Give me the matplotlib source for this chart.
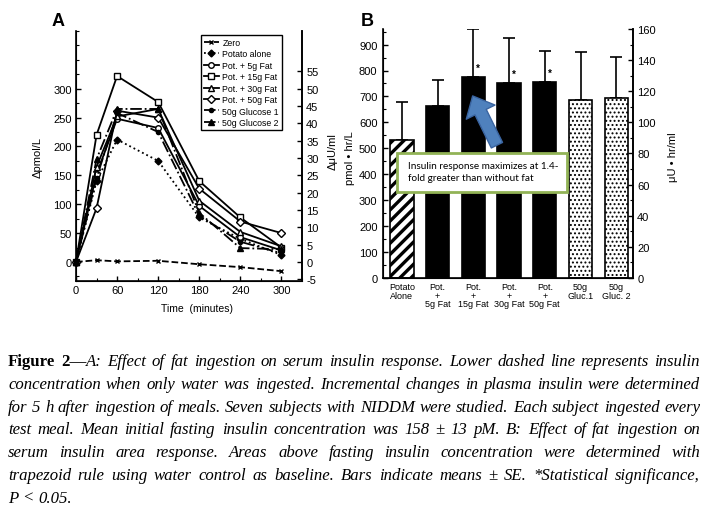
import numpy as np
import matplotlib
matplotlib.use("Agg")
import matplotlib.pyplot as plt
from matplotlib.lines import Line2D
from matplotlib.legend_handler import HandlerLine2D
from matplotlib.patches import FancyArrowPatch, Rectangle
from matplotlib.ticker import MultipleLocator

plt.rcParams['font.family'] = ['Liberation Sans', 'DejaVu Sans']
plt.rcParams['hatch.linewidth'] = 2.4
plt.rcParams['axes.unicode_minus'] = False

# ---- panel A: incremental insulin (pmol/L) ----
times = [0, 30, 60, 120, 180, 240, 300]
zero = [0, 3, 1, 2, -4, -9, -16]
potato_alone = [0, 140, 212, 175, 77, 40, 12]
pot_5g = [0, 152, 248, 232, 97, 43, 20]
pot_15g = [0, 220, 322, 277, 140, 77, 25]
pot_30g = [0, 165, 252, 265, 106, 52, 27]
pot_50g = [0, 93, 262, 250, 127, 70, 50]
glucose_1 = [0, 145, 258, 225, 80, 35, 15]
glucose_2 = [0, 178, 265, 265, 85, 24, 22]

series_names = ['Zero', 'Potato alone', 'Pot. + 5g Fat', 'Pot. + 15g Fat',
                'Pot. + 30g Fat', 'Pot. + 50g Fat', '50g Glucose 1', '50g Glucose 2']
series_values = [zero, potato_alone, pot_5g, pot_15g, pot_30g, pot_50g, glucose_1, glucose_2]
# linestyle, marker, face colour, marker size
series_styles = [('--', 'x', 'k', 3.5), (':', 'D', 'k', 3.5), ('-', 'o', 'w', 4),
                 ('-', 's', 'w', 4), ('-', '^', 'w', 4), ('-', 'D', 'w', 3.8),
                 ('-.', 'o', 'k', 3), ('-.', '^', 'k', 4)]

# ---- panel B: insulin area (pmol*hr/L) ----
bar_labels = ['Potato\nAlone', 'Pot.\n+\n5g Fat', 'Pot.\n+\n15g Fat', 'Pot.\n+\n30g Fat',
              'Pot.\n+\n50g Fat', '50g\nGluc.1', '50g\nGluc. 2']
area_means = [532, 665, 775, 752, 757, 688, 693]
area_se = [148, 98, 185, 175, 119, 184, 160]
significant = [False, False, True, True, True, False, False]
bar_kind = ['hatch', 'solid', 'solid', 'solid', 'solid', 'dots', 'dots']

note_text = "Insulin response maximizes at 1.4-\nfold greater than without fat"

caption_lines = [
    "Figure 2—|A: Effect of fat ingestion on serum insulin response. Lower dashed line represents insulin",
    "concentration when only water was ingested. Incremental changes in plasma insulin were determined",
    "for 5 h after ingestion of meals. Seven subjects with NIDDM were studied. Each subject ingested every",
    "test meal. Mean initial fasting insulin concentration was 158 ± 13 pM. B: Effect of fat ingestion on",
    "serum insulin area response. Areas above fasting insulin concentration were determined with",
    "trapezoid rule using water control as baseline. Bars indicate means ± SE. *Statistical significance,",
    "P < 0.05.",
]


class EndMarker(HandlerLine2D):
    def get_xdata(self, legend, xdescent, ydescent, width, height, fontsize):
        xdata = np.array([-xdescent, -xdescent + width])
        return xdata, np.array([-xdescent + width])


W, H = 704, 510
fig = plt.figure(figsize=(W / 100, H / 100), dpi=100)

# ================= Panel A =================
axA = fig.add_axes([76 / W, 1 - 282 / H, 226 / W, 250 / H])
for name, vals, (ls, mk, fc, ms) in zip(series_names, series_values, series_styles):
    axA.plot(times, vals, color='k', ls=ls, lw=1.3, marker=mk, ms=ms,
             mfc=fc, mec='k', mew=1.0, label=name, clip_on=False, zorder=3)
axA.set_xlim(0, 330)
axA.set_ylim(-33, 400)
axA.set_xticks(range(0, 301, 60))
axA.xaxis.set_minor_locator(MultipleLocator(30))
axA.set_yticks(range(0, 301, 50))
axA.yaxis.set_minor_locator(MultipleLocator(25))
axA.spines['top'].set_visible(False)
for s in ['left', 'right', 'bottom']:
    axA.spines[s].set_linewidth(1.2)
axA.tick_params(which='major', direction='in', length=3.5, width=1, labelsize=8, pad=3)
axA.tick_params(which='minor', direction='in', length=2, width=0.8)
axA.set_xlabel('Time  (minutes)', fontsize=7.5)
axA.xaxis.set_label_coords(0.535, -0.088)
axA.set_ylabel('Δpmol/L', fontsize=8)
axA.yaxis.set_label_coords(-0.146, 0.5)

axA2 = axA.twinx()
axA2.set_ylim(-33 / 6, 400 / 6)
axA2.set_yticks(range(-5, 56, 5))
axA2.spines['top'].set_visible(False)
axA2.spines['right'].set_linewidth(1.2)
axA2.tick_params(direction='in', length=3.5, width=1, labelsize=8, pad=3)
axA2.set_ylabel('ΔμU/ml', fontsize=8)
axA2.yaxis.set_label_coords(1.115, 0.52)

leg = axA.legend(loc='upper right', bbox_to_anchor=(0.912, 0.985), fontsize=6.3,
                 frameon=True, fancybox=False, edgecolor='k', framealpha=1,
                 handlelength=1.8, handletextpad=0.35, labelspacing=0.28,
                 borderpad=0.35, borderaxespad=0,
                 handler_map={Line2D: EndMarker()})
leg.get_frame().set_linewidth(1.0)

# ================= Panel B =================
axB = fig.add_axes([383 / W, 1 - 279 / H, 250 / W, 249 / H])
x = np.arange(len(area_means))
for xi, m, kind in zip(x, area_means, bar_kind):
    if kind == 'solid':
        axB.bar(xi, m, width=0.65, color='k', edgecolor='k', lw=1.2, zorder=2)
    elif kind == 'hatch':
        axB.bar(xi, m, width=0.65, color='w', edgecolor='k', lw=1.2, hatch='///', zorder=2)
    else:
        b = axB.bar(xi, m, width=0.65, color='w', edgecolor='k', lw=1.2, hatch='....', zorder=2)
        for p in b.patches:
            p.set_hatch_linewidth(0.9)
axB.errorbar(x, area_means, yerr=[np.zeros(len(area_se)), area_se], fmt='none',
             ecolor='k', elinewidth=1.2, capsize=4.5, capthick=1.2, zorder=1)
for xi, m, sig in zip(x, area_means, significant):
    if sig:
        axB.text(xi + 0.13, m + 15, '*', fontsize=7, ha='center', va='bottom',
                 fontweight='bold')
axB.set_xlim(-0.53, 6.47)
axB.set_ylim(0, 960)
axB.set_xticks(x)
axB.set_xticklabels(bar_labels, fontsize=6.5, linespacing=0.95)
axB.tick_params(axis='x', length=0, pad=3)
axB.set_yticks(range(0, 901, 100))
axB.yaxis.set_minor_locator(MultipleLocator(50))
axB.spines['top'].set_visible(False)
for s in ['left', 'right', 'bottom']:
    axB.spines[s].set_linewidth(1.2)
axB.tick_params(axis='y', which='major', direction='in', length=3.5, width=1, labelsize=8, pad=4)
axB.tick_params(axis='y', which='minor', direction='in', length=2, width=0.8)
axB.set_ylabel('pmol • hr/L', fontsize=8)
axB.yaxis.set_label_coords(-0.112, 0.486)

axB2 = axB.twinx()
axB2.set_ylim(0, 160)
axB2.set_yticks(range(0, 161, 20))
axB2.yaxis.set_minor_locator(MultipleLocator(10))
axB2.spines['top'].set_visible(False)
axB2.spines['right'].set_linewidth(1.2)
axB2.tick_params(which='major', direction='in', length=3.5, width=1, labelsize=8, pad=3)
axB2.tick_params(which='minor', direction='in', length=2, width=0.8)
axB2.set_ylabel('μU • hr/ml', fontsize=8)
axB2.yaxis.set_label_coords(1.14, 0.49)

# annotation box and arrow
box = Rectangle((-0.14, 332), 4.76, 151, facecolor='white', edgecolor='#92B356',
                lw=2, zorder=5, clip_on=False)
axB.add_patch(box)
axB.text(0.17, 410, note_text, fontsize=7.2, family=['Lato', 'DejaVu Sans'],
         ha='left', va='center', linespacing=1.4, zorder=6)
arrow = FancyArrowPatch(posA=(2.66, 512), posB=(1.98, 702),
                        arrowstyle='simple,head_length=1.3,head_width=2.3,tail_width=0.9',
                        mutation_scale=10, shrinkA=0, shrinkB=0,
                        facecolor='#4F81BD', edgecolor='#3A64A0', lw=1, zorder=6)
axB.add_patch(arrow)

fig.text(58 / W, 1 - 22 / H, 'A', fontsize=13, fontweight='bold', ha='center', va='center')
fig.text(367 / W, 1 - 22 / H, 'B', fontsize=13, fontweight='bold', ha='center', va='center')

# ================= caption (justified) =================
renderer = fig.canvas.get_renderer()
cap_left, cap_right = 8, 700
base0, pitch = 366, 22.8


def caption_words(line):
    if '|' in line:
        bold_part, rest = line.split('|')
        bold_words = bold_part.split(' ')
        rest_words = rest.split(' ')
        words = [[(w, 'bold')] for w in bold_words[:-1]]
        words.append([(bold_words[-1], 'bold'), (rest_words[0], 'italic')])
        words += [[(w, 'italic')] for w in rest_words[1:]]
        return words
    return [[(w, 'italic')] for w in line.split(' ')]


def make_text(txt, style, size):
    return fig.text(0, 0, txt, fontsize=size, family='Liberation Serif',
                    fontweight='bold' if style == 'bold' else 'normal',
                    fontstyle='italic' if style == 'italic' else 'normal',
                    va='baseline', ha='left', transform=None)


# pick a size so the tightest line fits with ordinary spacing
probe = []
for line in caption_lines[:-1]:
    t = make_text(line.replace('|', ''), 'italic', 10)
    probe.append(t.get_window_extent(renderer).width)
    t.remove()
cap_size = 10 * (cap_right - cap_left - 4) / max(probe)

for i, line in enumerate(caption_lines):
    words = caption_words(line)
    texts, widths = [], []
    for word in words:
        pieces, wsum = [], 0
        for txt, style in word:
            t = make_text(txt, style, cap_size)
            pw = t.get_window_extent(renderer).width
            pieces.append((t, pw))
            wsum += pw
        texts.append(pieces)
        widths.append(wsum)
    y = H - (base0 + i * pitch)
    if i < len(caption_lines) - 1:
        gap = (cap_right - cap_left - sum(widths)) / (len(words) - 1)
    else:
        gap = cap_size * 1.389 * 0.25
    xpos = cap_left
    for pieces, wsum in zip(texts, widths):
        xp = xpos
        for t, pw in pieces:
            t.set_position((xp, y))
            xp += pw
        xpos += wsum + gap

fig.savefig('out.png', dpi=100)
